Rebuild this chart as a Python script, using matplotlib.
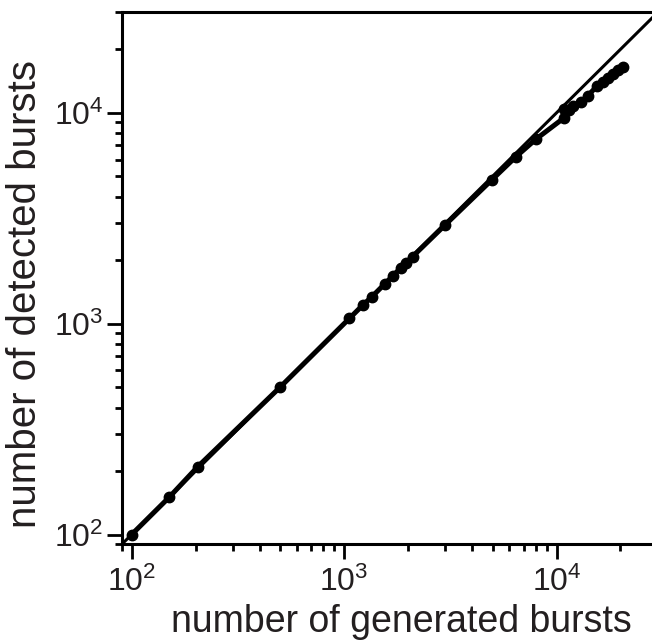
import matplotlib
matplotlib.use("Agg")
import matplotlib.pyplot as plt
from matplotlib.ticker import LogLocator

plt.rcParams['font.family'] = ['Liberation Sans', 'DejaVu Sans']
plt.rcParams['mathtext.fontset'] = 'custom'
plt.rcParams['mathtext.rm'] = 'Liberation Sans'

# generated vs detected bursts
generated = [100, 150, 205, 500, 1060, 1230, 1350, 1550, 1700, 1850, 1950, 2100,
             3000, 4950, 6450, 8000, 10900, 10900, 11500, 12000, 13000, 14000,
             15500, 16500, 17500, 18500, 19500, 20500]
detected = [100, 150, 210, 500, 1060, 1230, 1340, 1540, 1690, 1840, 1940, 2080,
            2950, 4800, 6200, 7500, 9500, 10400, 10300, 10800, 11200, 12000,
            13400, 14000, 14700, 15300, 15900, 16500]
diag = [90, 30000]

txt = '#231f20'
fig = plt.figure(figsize=(6.52, 6.44), dpi=100)
ax = fig.add_axes([0.187, 0.155, 0.822, 0.826])

ax.plot(diag, diag, color='black', lw=2.2, zorder=2)
ax.plot(generated, detected, color='black', lw=3.6, marker='o', ms=7.5,
        zorder=3, solid_capstyle='round')

ax.set_xscale('log')
ax.set_yscale('log')
ax.set_xlim(90, 30000)
ax.set_ylim(90, 30000)

for a in (ax.xaxis, ax.yaxis):
    a.set_major_locator(LogLocator(base=10, numticks=10))
    a.set_minor_locator(LogLocator(base=10, subs=range(2, 10), numticks=20))

for s in ax.spines.values():
    s.set_linewidth(2.2)
ax.tick_params(which='major', direction='out', length=10.5, width=2, labelsize=23,
               pad=3, colors='black', labelcolor=txt)
ax.tick_params(which='major', axis='x', pad=6)
ax.tick_params(which='minor', direction='out', length=5, width=2, colors='black')

ax.set_xlabel('number of generated bursts', fontsize=27, color=txt)
ax.set_ylabel('number of detected bursts', fontsize=29, color=txt)
ax.xaxis.set_label_coords(0.522, -0.112)
ax.yaxis.set_label_coords(-0.145, 0.47)

fig.savefig('out.png', dpi=100)
